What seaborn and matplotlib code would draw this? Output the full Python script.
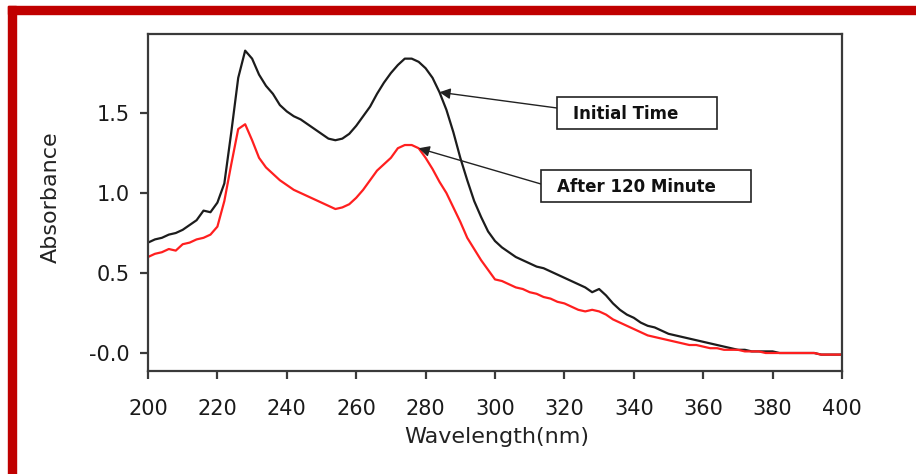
import numpy as np
import pandas as pd
import matplotlib
matplotlib.use("Agg")
import matplotlib.pyplot as plt
from matplotlib.patches import Rectangle
import seaborn as sns

# ---------------- data ----------------
wavelength = list(range(200, 401, 2))

initial_time = [
    0.69, 0.71, 0.72, 0.74, 0.75, 0.77, 0.80, 0.83, 0.89, 0.88,   # 200-218
    0.94, 1.06, 1.38, 1.72, 1.89, 1.84, 1.74, 1.67, 1.62, 1.55,   # 220-238
    1.51, 1.48, 1.46, 1.43, 1.40, 1.37, 1.34, 1.33, 1.34, 1.37,   # 240-258
    1.42, 1.48, 1.54, 1.62, 1.69, 1.75, 1.80, 1.84, 1.84, 1.82,   # 260-278
    1.78, 1.72, 1.63, 1.52, 1.38, 1.22, 1.08, 0.95, 0.85, 0.76,   # 280-298
    0.70, 0.66, 0.63, 0.60, 0.58, 0.56, 0.54, 0.53, 0.51, 0.49,   # 300-318
    0.47, 0.45, 0.43, 0.41, 0.38, 0.40, 0.36, 0.31, 0.27, 0.24,   # 320-338
    0.22, 0.19, 0.17, 0.16, 0.14, 0.12, 0.11, 0.10, 0.09, 0.08,   # 340-358
    0.07, 0.06, 0.05, 0.04, 0.03, 0.02, 0.02, 0.01, 0.01, 0.01,   # 360-378
    0.01, 0.00, 0.00, 0.00, 0.00, 0.00, 0.00, -0.01, -0.01, -0.01, # 380-398
    -0.01,                                                          # 400
]

after_120 = [
    0.60, 0.62, 0.63, 0.65, 0.64, 0.68, 0.69, 0.71, 0.72, 0.74,   # 200-218
    0.79, 0.95, 1.18, 1.40, 1.43, 1.33, 1.22, 1.16, 1.12, 1.08,   # 220-238
    1.05, 1.02, 1.00, 0.98, 0.96, 0.94, 0.92, 0.90, 0.91, 0.93,   # 240-258
    0.97, 1.02, 1.08, 1.14, 1.18, 1.22, 1.28, 1.30, 1.30, 1.28,   # 260-278
    1.22, 1.15, 1.07, 1.00, 0.91, 0.82, 0.72, 0.65, 0.58, 0.52,   # 280-298
    0.46, 0.45, 0.43, 0.41, 0.40, 0.38, 0.37, 0.35, 0.34, 0.32,   # 300-318
    0.31, 0.29, 0.27, 0.26, 0.27, 0.26, 0.24, 0.21, 0.19, 0.17,   # 320-338
    0.15, 0.13, 0.11, 0.10, 0.09, 0.08, 0.07, 0.06, 0.05, 0.05,   # 340-358
    0.04, 0.03, 0.03, 0.02, 0.02, 0.02, 0.01, 0.01, 0.01, 0.00,   # 360-378
    0.00, 0.00, 0.00, 0.00, 0.00, 0.00, 0.00, -0.01, -0.01, -0.01, # 380-398
    -0.01,                                                          # 400
]

series_names = ["Initial Time", "After 120 Minute"]
x_ticks = list(range(200, 401, 20))
y_ticks = [0.0, 0.5, 1.0, 1.5]
y_tick_labels = ["-0.0", "0.5", "1.0", "1.5"]

df = pd.DataFrame({
    "Wavelength": wavelength * 2,
    "Absorbance": initial_time + after_120,
    "Series": [series_names[0]] * len(wavelength) + [series_names[1]] * len(wavelength),
})

# ---------------- styling ----------------
sns.set_theme(style="ticks")
plt.rcParams["font.family"] = ["DejaVu Sans"]

W, H = 916, 474
fig = plt.figure(figsize=(W / 100, H / 100), dpi=100)
fig.patch.set_facecolor("white")

def fx(px):
    return px / W

def fy(py):
    return 1 - py / H

ax = fig.add_axes([fx(148), fy(371), (842 - 148) / W, (371 - 34) / H])

sns.lineplot(
    data=df, x="Wavelength", y="Absorbance", hue="Series",
    hue_order=series_names,
    palette={series_names[0]: "#1c1c1c", series_names[1]: "#ff1f1f"},
    linewidth=1.6, legend=False, ax=ax, estimator=None, sort=True,
)

ax.set_xlim(200, 400)
ax.set_ylim(-0.1125, 1.994)
ax.set_xticks(x_ticks)
ax.set_xticklabels([str(t) for t in x_ticks])
ax.set_yticks(y_ticks)
ax.set_yticklabels(y_tick_labels)

for s in ax.spines.values():
    s.set_visible(True)
    s.set_color("#3a3a3a")
    s.set_linewidth(1.6)

ax.tick_params(axis="both", direction="out", length=6, width=1.6,
               color="#3a3a3a", labelcolor="#1a1a1a", labelsize=15)
ax.tick_params(axis="x", pad=14, bottom=True)
ax.tick_params(axis="y", pad=7, left=True)

ax.set_xlabel("Wavelength(nm)", fontsize=16, color="#222222")
ax.set_ylabel("Absorbance", fontsize=16, color="#222222")
ax.xaxis.set_label_coords(0.503, -0.165)
ax.yaxis.set_label_coords(-0.125, 0.516)

# ---------------- annotation boxes ----------------
boxes = [
    # (label, box left, top, right, bottom, text x, text y, arrow start y, series, tip wl)
    (series_names[0], 557, 97, 717, 129, 573, 114, 108, initial_time, 284),
    (series_names[1], 541, 170, 751, 202, 557, 187, 184, after_120, 278),
]
for label, l, t, r, b, tx, ty, ay, vals, wl in boxes:
    fig.patches.append(Rectangle((fx(l), fy(b)), (r - l) / W, (b - t) / H,
                                 transform=fig.transFigure, facecolor="white",
                                 edgecolor="#222222", linewidth=1.2, zorder=5))
    fig.text(fx(tx), fy(ty), label, fontsize=12, fontweight="bold",
             color="#111111", ha="left", va="center", zorder=6)
    idx = wavelength.index(wl)
    ax.annotate("", xy=(wl, vals[idx]), xycoords="data",
                xytext=(fx(l), fy(ay)), textcoords="figure fraction",
                arrowprops=dict(arrowstyle="-|>", color="#222222", lw=1.0,
                                mutation_scale=16, shrinkA=0, shrinkB=0),
                annotation_clip=False, zorder=7)

# ---------------- red frame ----------------
frame_red = "#c00000"
fig.patches.append(Rectangle((fx(8), fy(14)), (W - 8) / W, 8 / H,
                             transform=fig.transFigure, color=frame_red, zorder=10))
fig.patches.append(Rectangle((fx(8), 0), 8 / W, fy(6),
                             transform=fig.transFigure, color=frame_red, zorder=10))

fig.savefig("out.png", dpi=100)
